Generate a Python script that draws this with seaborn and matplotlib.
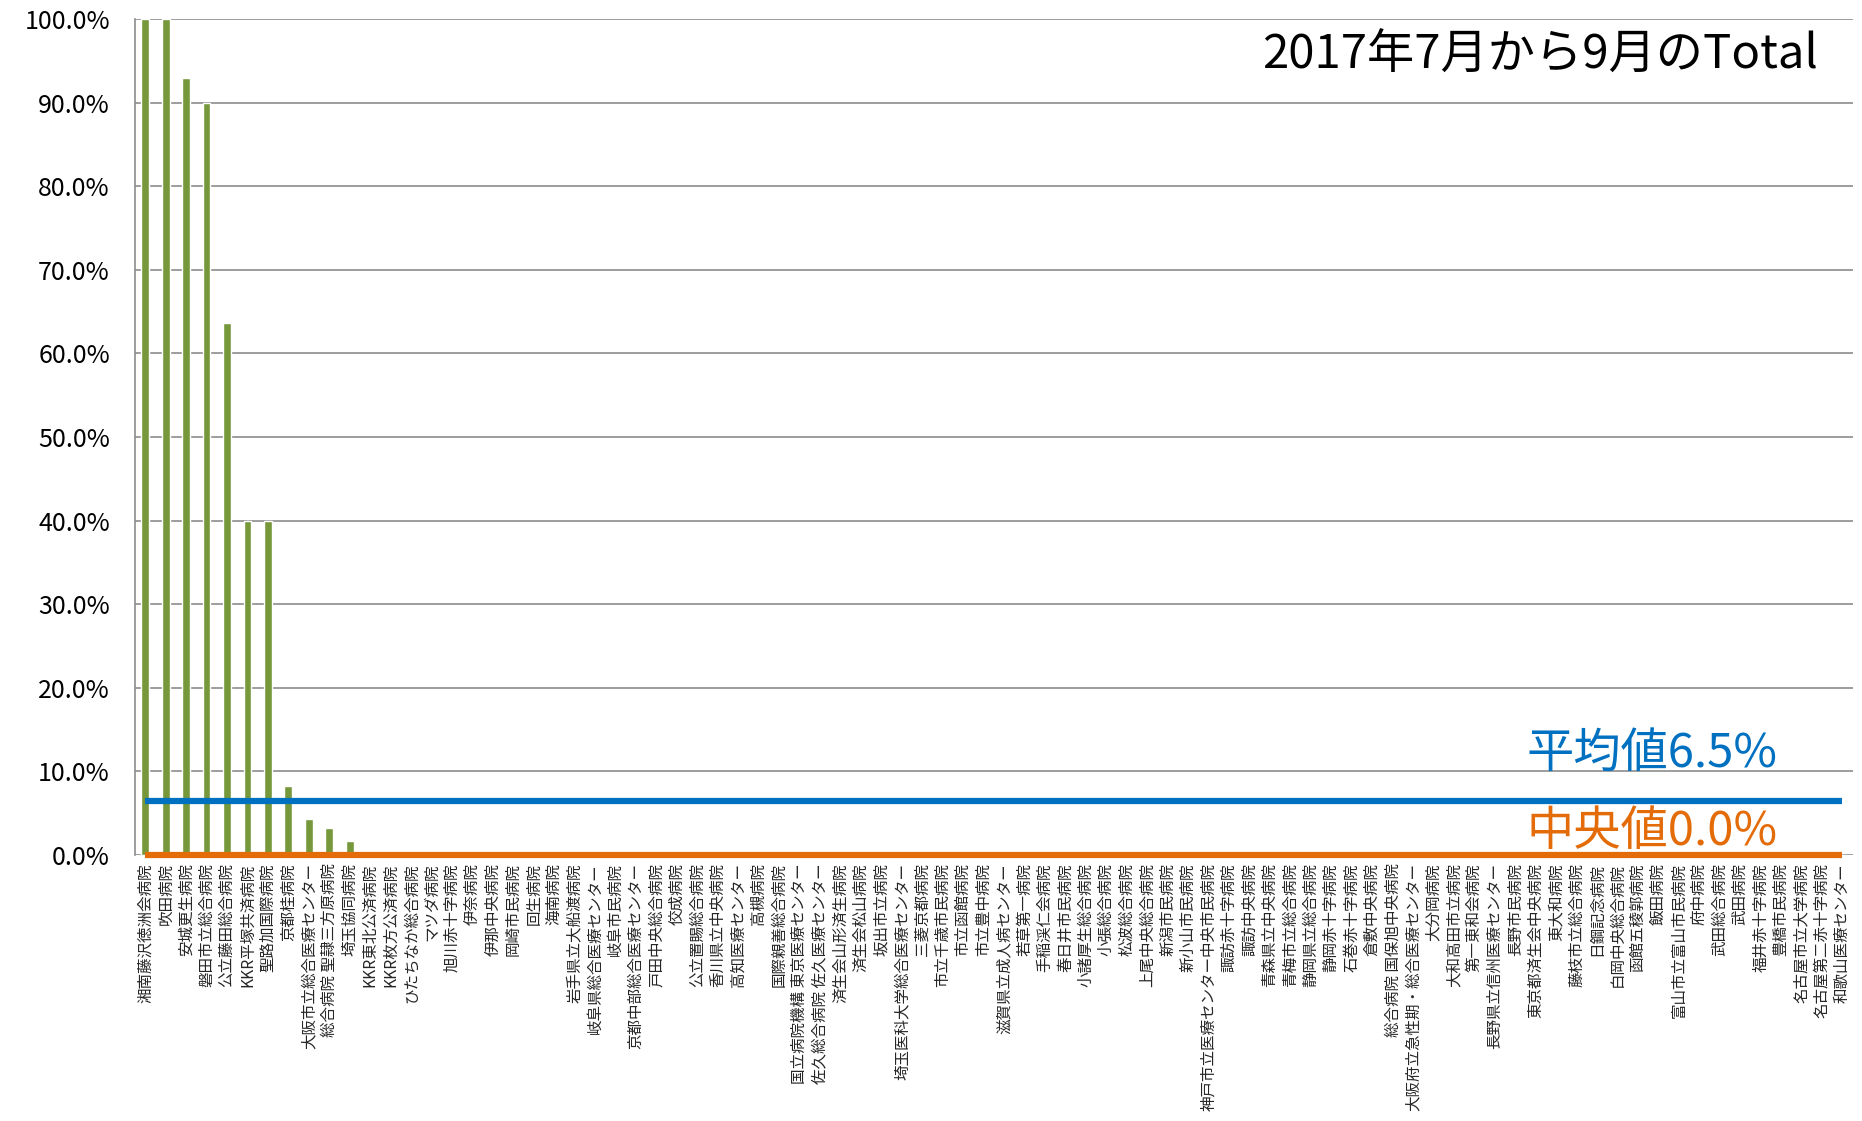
import pandas as pd
import matplotlib
matplotlib.use("Agg")
import matplotlib.pyplot as plt
import seaborn as sns
from matplotlib.ticker import PercentFormatter, FixedLocator

sns.set_style("white")
plt.rcParams['font.family'] = ['Noto Sans CJK JP', 'DejaVu Sans']

# Data:
hospitals = [
    "湘南藤沢徳洲会病院", "吹田病院", "安城更生病院", "磐田市立総合病院", "公立藤田総合病院",
    "KKR平塚共済病院", "聖路加国際病院", "京都桂病院", "大阪市立総合医療センター",
    "総合病院 聖隷三方原病院", "埼玉協同病院", "KKR東北公済病院", "KKR枚方公済病院",
    "ひたちなか総合病院", "マツダ病院", "旭川赤十字病院", "伊奈病院", "伊那中央病院",
    "岡崎市民病院", "回生病院", "海南病院", "岩手県立大船渡病院", "岐阜県総合医療センター",
    "岐阜市民病院", "京都中部総合医療センター", "戸田中央総合病院", "佼成病院",
    "公立置賜総合病院", "香川県立中央病院", "高知医療センター", "高槻病院",
    "国際親善総合病院", "国立病院機構 東京医療センター", "佐久総合病院 佐久医療センター",
    "済生会山形済生病院", "済生会松山病院", "坂出市立病院", "埼玉医科大学総合医療センター",
    "三菱京都病院", "市立千歳市民病院", "市立函館病院", "市立豊中病院",
    "滋賀県立成人病センター", "若草第一病院", "手稲渓仁会病院", "春日井市民病院",
    "小諸厚生総合病院", "小張総合病院", "松波総合病院", "上尾中央総合病院", "新潟市民病院",
    "新小山市民病院", "神戸市立医療センター中央市民病院", "諏訪赤十字病院", "諏訪中央病院",
    "青森県立中央病院", "青梅市立総合病院", "静岡県立総合病院", "静岡赤十字病院",
    "石巻赤十字病院", "倉敷中央病院", "総合病院 国保旭中央病院",
    "大阪府立急性期・総合医療センター", "大分岡病院", "大和高田市立病院", "第一東和会病院",
    "長野県立信州医療センター", "長野市民病院", "東京都済生会中央病院", "東大和病院",
    "藤枝市立総合病院", "日鋼記念病院", "白岡中央総合病院", "函館五稜郭病院", "飯田病院",
    "富山市立富山市民病院", "府中病院", "武田総合病院", "武田病院", "福井赤十字病院",
    "豊橋市民病院", "名古屋市立大学病院", "名古屋第二赤十字病院", "和歌山医療センター",
]
rate = [100.0, 100.0, 92.9, 90.0, 63.6, 40.0, 40.0, 8.3, 4.3, 3.2, 1.7] + [0.0] * 73
mean_value = 6.5
median_value = 0.0
title = "2017年7月から9月のTotal"

df = pd.DataFrame({"hospital": hospitals, "rate": rate})

fig = plt.figure(figsize=(18.62, 11.21), dpi=100)
ax = fig.add_axes([0.0725, 0.2373, 0.9225, 0.7457])

sns.barplot(data=df, x="hospital", y="rate", color="#76983A", saturation=1,
            width=0.38, ax=ax, zorder=3)

# mean / median lines across all categories
xs = list(range(len(hospitals)))
ax.plot(xs, [mean_value] * len(xs), color="#0070C0", lw=4.5, zorder=4,
        solid_capstyle="butt", clip_on=False)
ax.plot(xs, [median_value] * len(xs), color="#E36C09", lw=4.5, zorder=4,
        solid_capstyle="butt", clip_on=False)

ax.set_ylim(0, 100)
ax.set_xlim(-0.5, len(hospitals) - 0.5)
ax.yaxis.set_major_locator(FixedLocator(range(0, 101, 10)))
ax.yaxis.set_major_formatter(PercentFormatter(decimals=1))
ax.grid(axis="y", color="#8c8c8c", lw=1.2, zorder=0)
ax.set_axisbelow(True)

ax.set_xlabel("")
ax.set_ylabel("")
ax.tick_params(axis="y", labelsize=18, length=0, pad=18, colors="black")
ax.tick_params(axis="x", which="major", labelsize=11.2, length=0, pad=6, rotation=90)
ax.xaxis.set_minor_locator(FixedLocator([i - 0.5 for i in range(len(hospitals) + 1)]))
ax.tick_params(axis="x", which="minor", length=5, color="#8c8c8c", width=1)

for s in ["top", "right", "bottom"]:
    ax.spines[s].set_visible(False)
ax.spines["left"].set_color("#8c8c8c")
ax.spines["left"].set_linewidth(1.2)

ax.text(0.980, 0.956, title, transform=ax.transAxes, ha="right", va="center",
        fontsize=34, color="black")
ax.text(0.883, 12.1, f"平均値{mean_value:.1f}%", transform=ax.get_yaxis_transform(),
        ha="center", va="center", fontsize=34, color="#0070C0")
ax.text(0.883, 2.8, f"中央値{median_value:.1f}%", transform=ax.get_yaxis_transform(),
        ha="center", va="center", fontsize=34, color="#E36C09")

fig.savefig("out.png", dpi=100)
